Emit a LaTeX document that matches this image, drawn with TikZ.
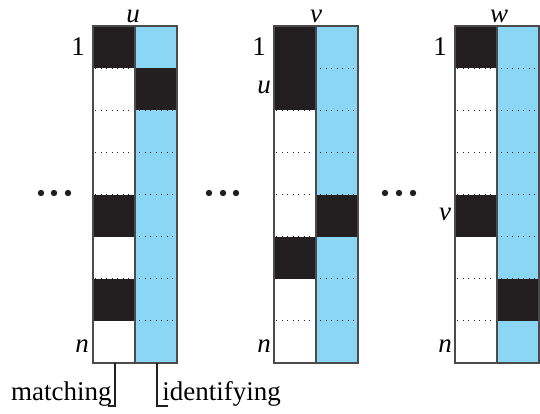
\documentclass[tikz,border=0pt]{standalone}
\usepackage{fontspec}
\setmainfont{Liberation Serif}
\definecolor{idblue}{RGB}{140,214,245}
\definecolor{cellblack}{RGB}{35,31,32}
\definecolor{framegray}{RGB}{75,75,75}

% one vertex column: left x, list of black rows (left half), list of black rows (right half)
\newcommand\bitcol[3]{%
  \fill[idblue] (#1+42,26) rectangle (#1+84,363);
  \foreach \r in {#2} \fill[cellblack] (#1,26+\r*42.125-42.125) rectangle ++(42,42.125);
  \foreach \r in {#3} \fill[cellblack] (#1+42,26+\r*42.125-42.125) rectangle ++(42,42.125);
  \foreach \k in {1,...,7} \draw[rowsep] (#1+2,26+\k*42.125) -- (#1+82,26+\k*42.125);
  \draw[colframe] (#1,26) rectangle (#1+84,363);
  \draw[colframe] (#1+42,26) -- (#1+42,363);
}

\begin{document}
\begin{tikzpicture}[x=0.5pt,y=-0.5pt,
  lbl/.style={font=\fontsize{13.5}{16}\selectfont, inner sep=0pt, anchor=base},
  rowsep/.style={cellblack, line width=0.55pt, dash pattern=on 0.55pt off 2.2pt},
  colframe/.style={framegray, line width=0.8pt},
  callout/.style={cellblack, line width=0.55pt},
  dotmark/.style={fill=cellblack, draw=none}]
\useasboundingbox (0,0) rectangle (540,413);

\bitcol{93}{1,5,7}{2}
\bitcol{274}{1,2,6}{5}
\bitcol{455}{1,5}{7}

% column headings
\node[lbl] (hu) at (133,22) {\textit{u}};
\node[lbl] (hv) at (316,22) {\textit{v}};
\node[lbl] (hw) at (499,22) {\textit{w}};

% row labels
\node[lbl] (u1) at (78,55) {1};
\node[lbl] (un) at (82,352) {\textit{n}};
\node[lbl] (v1) at (259,55) {1};
\node[lbl] (vu) at (264,93) {\textit{u}};
\node[lbl] (vn) at (264,352) {\textit{n}};
\node[lbl] (w1) at (440,55) {1};
\node[lbl] (wv) at (445,220) {\textit{v}};
\node[lbl] (wn) at (445,352) {\textit{n}};

% ellipsis dots between columns
\foreach \cx in {41,54,68,209,223,236,385,399,413}
  \fill[dotmark] (\cx,193) circle (3.2);

% half-column captions
\node[lbl, anchor=base east] (match) at (112,400) {matching};
\node[lbl, anchor=base west] (ident) at (162,400) {identifying};
\coordinate (mtop) at (115,363);
\coordinate (mend) at (108,406);
\coordinate (itop) at (157,363);
\coordinate (iend) at (168,406);
\draw[callout] (mtop) |- (mend);
\draw[callout] (itop) |- (iend);
\end{tikzpicture}
\end{document}
